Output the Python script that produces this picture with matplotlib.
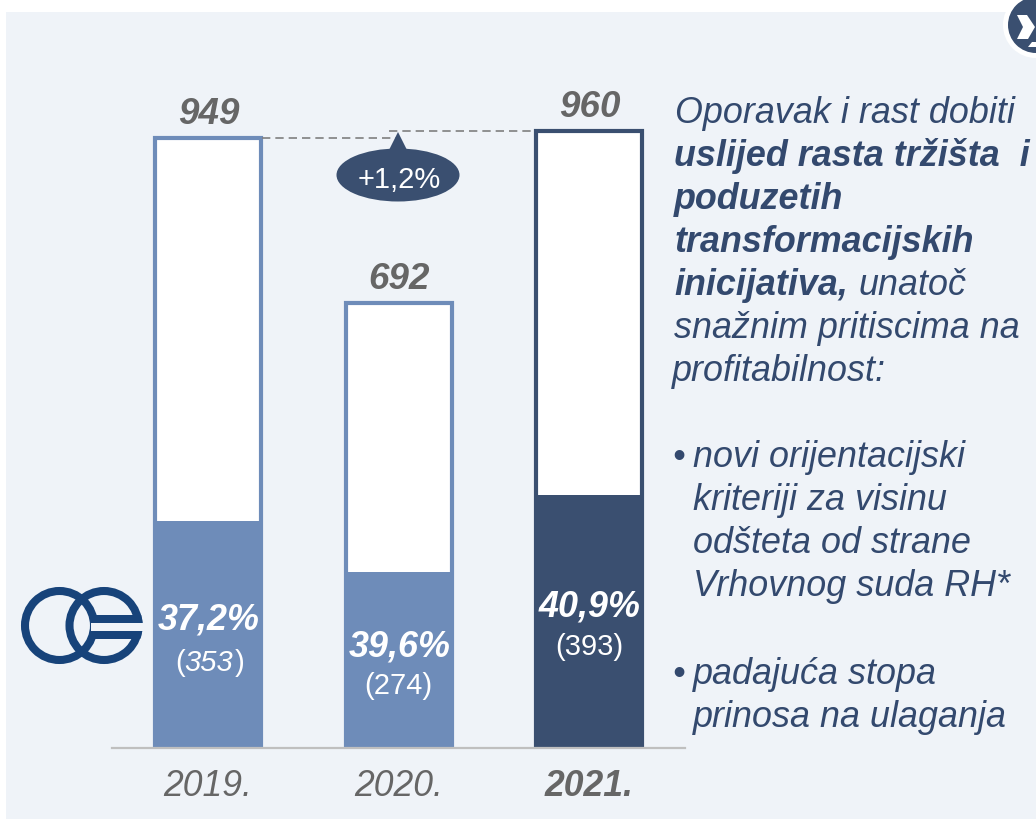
import matplotlib
matplotlib.use('Agg')
import matplotlib.pyplot as plt
from matplotlib.patches import Circle, Ellipse, Polygon, Rectangle

plt.rcParams['font.family'] = ['Liberation Sans', 'DejaVu Sans']

years = ['2019.', '2020.', '2021.']
totals = [949, 692, 960]
parts = [353, 274, 393]
shares = ['37,2%', '39,6%', '40,9%']
part_labels = ['353', '274', '393']
growth = '+1,2%'

light = '#6e8cb9'
dark = '#3a4f70'
text_blue = '#33496e'
grey = '#666666'
panel = '#eff3f8'
bar_colors = [light, light, dark]

W, H = 1036, 819
fig = plt.figure(figsize=(W / 100, H / 100), dpi=100, facecolor='white')

# overlay in pixels for panel, logos and the side text
bg = fig.add_axes([0, 0, 1, 1], zorder=0)
bg.set_xlim(0, W)
bg.set_ylim(H, 0)
bg.axis('off')
bg.add_patch(Rectangle((6, 12), W - 6, H - 12, color=panel, lw=0))

top = fig.add_axes([0, 0, 1, 1], zorder=2)
top.set_xlim(0, W)
top.set_ylim(H, 0)
top.axis('off')
top.patch.set_alpha(0)

# chart axes: baseline at y=748, x from 112 to 685
ax_top, ax_bottom, ax_left, ax_right = 60, 748, 112, 685
ax = fig.add_axes([ax_left / W, 1 - ax_bottom / H, (ax_right - ax_left) / W, (ax_bottom - ax_top) / H], zorder=1)
ax.patch.set_alpha(0)
step = 190.5
ax.set_xlim((ax_left - 208) / step, (ax_right - 208) / step)
ax.set_ylim(0, (ax_bottom - ax_top) / 0.6428)
for s in ['top', 'left', 'right']:
    ax.spines[s].set_visible(False)
ax.spines['bottom'].set_color('#bfbfbf')
ax.spines['bottom'].set_linewidth(1.6)
ax.spines['bottom'].set_zorder(5)
ax.set_yticks([])

x = list(range(len(years)))
bar_w = 106 / step
ax.bar(x, totals, bar_w, color='white', edgecolor=bar_colors, linewidth=3)
ax.bar(x, parts, 110 / step, color=bar_colors, linewidth=0, zorder=3)

ax.set_xticks(x, years, fontsize=25.6, style='italic', color=grey)
ax.tick_params(axis='x', length=0, pad=15)
ax.get_xticklabels()[2].set_fontweight('bold')

for i in x:
    ax.text(i + 0.005, totals[i] + 9, str(totals[i]), ha='center', va='bottom', fontsize=26.5,
            fontweight='bold', style='italic', color=grey, zorder=6)

share_y = [184, 142, 205]
count_y = [140, 84, 144]
for i in x:
    ax.text(i + 0.005, share_y[i], shares[i], ha='center', va='baseline', fontsize=25.8,
            fontweight='bold', style='italic', color='white', zorder=6)
top.text(175, 671, '(', fontsize=21, color='white', va='baseline')
top.text(184, 671, part_labels[0], fontsize=21, color='white', style='italic', va='baseline')
top.text(235, 671, ')', fontsize=21, color='white', va='baseline')
ax.text(1, count_y[1], '(' + part_labels[1] + ')', ha='center', va='baseline', fontsize=21, color='white', zorder=6)
ax.text(2, count_y[2], '(' + part_labels[2] + ')', ha='center', va='baseline', fontsize=21, color='white', zorder=6)

# dashed reference lines from the 2019 and 2021 totals
ax.plot([0 + 54 / step, 1], [totals[0], totals[0]], color='#7f7f7f', lw=1.2, ls=(0, (5, 3)), zorder=2)
ax.plot([0.95, 2 - 54 / step], [totals[2], totals[2]], color='#7f7f7f', lw=1.2, ls=(0, (5, 3)), zorder=2)

# growth callout
top.add_patch(Ellipse((398, 175), 123, 53, color=dark, lw=0))
top.add_patch(Polygon([(398, 132), (388, 152), (408, 152)], color=dark, lw=0))
top.text(399, 188, growth, fontsize=21, color='white', ha='center', va='baseline')

# logo at left
logo = '#17437a'
top.add_patch(Circle((59.5, 625.5), 34.5, fill=False, ec=logo, lw=5.8))
top.add_patch(Circle((104, 625.5), 34.5, fill=False, ec=logo, lw=5.8))
top.add_patch(Rectangle((91, 623), 56, 8, color=panel, lw=0))
clip = Circle((104, 625.5), 38.7, transform=top.transData)
for ry, rh in [(615, 8), (631, 7.5)]:
    r = Rectangle((90, ry), 53, rh, color=logo, lw=0)
    top.add_patch(r)
    r.set_clip_path(clip)

# corner badge
top.add_patch(Circle((1036, 25), 33, color='white', lw=0))
top.add_patch(Circle((1036, 25), 28, color=dark, lw=0))
top.add_patch(Polygon([(1017, 15), (1027, 15), (1035, 27), (1028, 39), (1017, 39), (1023, 27)],
                      color='white', lw=0))
top.add_patch(Polygon([(1032, 42), (1036, 42), (1036, 47), (1028, 47)], color='white', lw=0))

# side text: (x, baseline, text, weight)
lines = [
    (675, 123, 'Oporavak i rast dobiti', 'normal'),
    (674, 166, 'uslijed rasta tržišta  i', 'bold'),
    (674, 209, 'poduzetih', 'bold'),
    (674, 252, 'transformacijskih', 'bold'),
    (674, 295, 'inicijativa,', 'bold'),
    (859, 295, 'unatoč', 'normal'),
    (674, 338, 'snažnim pritiscima na', 'normal'),
    (672, 381, 'profitabilnost:', 'normal'),
    (672, 467, '•', 'normal'),
    (693, 467, 'novi orijentacijski', 'normal'),
    (693, 510, 'kriteriji za visinu', 'normal'),
    (693, 553, 'odšteta od strane', 'normal'),
    (693, 596, 'Vrhovnog suda RH*', 'normal'),
    (672, 684, '•', 'normal'),
    (693, 684, 'padajuća stopa', 'normal'),
    (693, 727, 'prinosa na ulaganja', 'normal'),
]
for lx, ly, txt, weight in lines:
    top.text(lx, ly, txt, fontsize=25.8, style='italic', fontweight=weight, color=text_blue, va='baseline')

fig.savefig('out.png', dpi=100)
